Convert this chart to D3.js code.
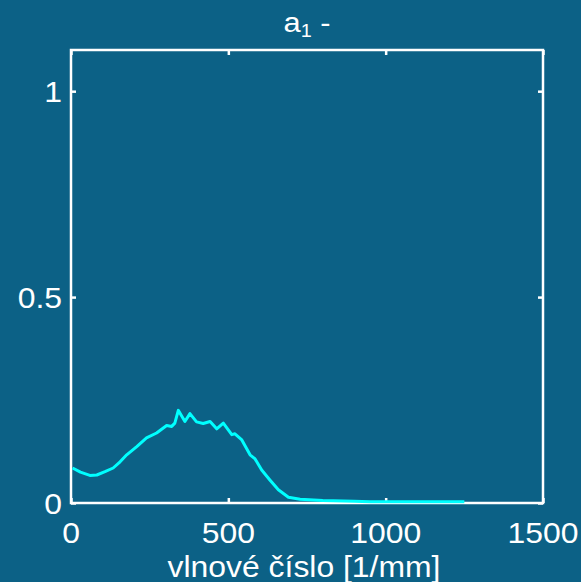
<!DOCTYPE html>
<html><head><meta charset="utf-8">
<script src="https://cdn.jsdelivr.net/npm/d3@7"></script>
<style>html,body{margin:0;padding:0;background:#0c6186;overflow:hidden}</style>
</head><body>
<svg id="c" width="581" height="582"></svg>
<script>
const xValues = [5,30,60,82,108,134,156,177,209,240,272,304,320,330,341,362,378,399,420,442,463,484,511,521,542,569,585,606,632,659,691,728,800,900,950,1000,1100,1200,1250];
const yValues = [0.085,0.075,0.067,0.068,0.076,0.085,0.1,0.117,0.137,0.158,0.17,0.188,0.186,0.194,0.225,0.198,0.217,0.197,0.193,0.198,0.18,0.194,0.166,0.168,0.154,0.117,0.107,0.08,0.056,0.032,0.014,0.009,0.006,0.004,0.003,0.003,0.003,0.003,0.003];
const xTicks = [0,500,1000,1500];
const xTickLabels = ["0","500","1000","1500"];
const yTicks = [0,0.5,1];
const yTickLabels = ["0","0.5","1"];
const title = "a";
const titleSub = "1";
const xLabel = "vlnové číslo [1/mm]";

const W=581,H=582, L=71, R=543, T=50, B=503;
const SX = 1.1;
const svg = d3.select("#c");
svg.append("rect").attr("width",W).attr("height",H).attr("fill","#0c6186");
const x = d3.scaleLinear().domain([0,1500]).range([L,R]);
const y = d3.scaleLinear().domain([0,1.1]).range([B,T]);
const font = "Liberation Sans, Arial, Helvetica, sans-serif";

const xb = svg.append("g").attr("transform",`translate(0,${B})`)
  .call(d3.axisBottom(x).tickValues(xTicks).tickSizeInner(-5).tickSizeOuter(0).tickFormat(""));
const xt = svg.append("g").attr("transform",`translate(0,${T})`)
  .call(d3.axisTop(x).tickValues(xTicks).tickSizeInner(-5).tickSizeOuter(0).tickFormat(""));
const yl = svg.append("g").attr("transform",`translate(${L},0)`)
  .call(d3.axisLeft(y).tickValues(yTicks).tickSizeInner(-5).tickSizeOuter(0).tickFormat(""));
const yr = svg.append("g").attr("transform",`translate(${R},0)`)
  .call(d3.axisRight(y).tickValues(yTicks).tickSizeInner(-5).tickSizeOuter(0).tickFormat(""));
[xb,xt,yl,yr].forEach(g=>{
  g.select(".domain").remove();
  g.selectAll("line").attr("stroke","white").attr("stroke-width",2.5);
});

svg.append("rect").attr("x",L).attr("y",T).attr("width",R-L).attr("height",B-T)
  .attr("fill","none").attr("stroke","white").attr("stroke-width",2.5);

function label(px,py,txt,anchor,size){
  return svg.append("text").attr("transform",`translate(${px},${py}) scale(${SX},1)`)
    .attr("text-anchor",anchor).attr("fill","white")
    .style("font-family",font).style("font-size",size+"px").text(txt);
}
xTicks.forEach((t,i)=>label(x(t),543,xTickLabels[i],"middle",29));
yTicks.forEach((t,i)=>label(L-9,y(t)+10.5,yTickLabels[i],"end",29));

svg.append("path").datum(xValues.map((v,i)=>[v,yValues[i]]))
  .attr("fill","none").attr("stroke","#00ffff").attr("stroke-width",3)
  .attr("stroke-linejoin","round")
  .attr("d", d3.line().x(d=>x(d[0])).y(d=>y(d[1])));

const tt = svg.append("text").attr("transform",`translate(${(L+R)/2},32) scale(${SX},1)`).attr("text-anchor","middle")
  .attr("fill","white").style("font-family",font).style("font-size","28px");
tt.append("tspan").text(title);
tt.append("tspan").attr("dy",5).style("font-size","18px").text(titleSub);
tt.append("tspan").attr("dy",-5).text(" -");

label(304,577,xLabel,"middle",29);
</script>
</body></html>
